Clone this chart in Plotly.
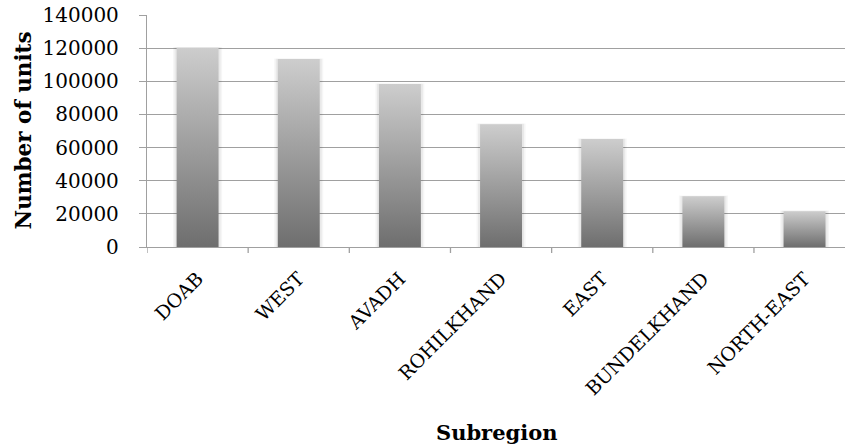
import plotly.graph_objects as go

categories = ["DOAB", "WEST", "AVADH", "ROHILKHAND", "EAST", "BUNDELKHAND", "NORTH-EAST"]
units = [120300, 113400, 98300, 74100, 65100, 30600, 21600]
y_ticks = [0, 20000, 40000, 60000, 80000, 100000, 120000, 140000]

W, H = 845, 445
ML, MR, MT, MB = 147, 0, 15, 198
PH = H - MT - MB
PW = W - ML - MR
GRID = "#a0a0a0"
half = 0.2075

fig = go.Figure()
for i, (cat, v) in enumerate(zip(categories, units)):
    # soft shadow
    for pad, a in [(0.035, 0.035), (0.02, 0.05)]:
        fig.add_trace(go.Scatter(
            x=[i - half - pad, i + half + pad, i + half + pad, i - half - pad, i - half - pad],
            y=[0, 0, v + pad * 12000, v + pad * 12000, 0],
            mode="lines", line=dict(width=0, color="rgba(0,0,0,0)"),
            fill="toself", fillcolor=f"rgba(0,0,0,{a})",
            hoverinfo="skip", showlegend=False,
        ))
    fig.add_trace(go.Scatter(
        x=[i - half, i + half, i + half, i - half, i - half],
        y=[0, 0, v, v, 0],
        mode="lines",
        line=dict(width=0, color="rgba(0,0,0,0)"),
        fill="toself",
        fillgradient=dict(type="vertical",
                          colorscale=[[0, "#6e6e6e"], [1, "#cdcdcd"]]),
        hoverinfo="skip",
        showlegend=False,
        name=cat,
    ))

fig.update_layout(
    width=W, height=H,
    margin=dict(l=ML, r=MR, t=MT, b=MB, pad=0, autoexpand=False),
    paper_bgcolor="white", plot_bgcolor="white",
    showlegend=False,
    font=dict(family="DejaVu Serif", color="black"),
    xaxis=dict(
        type="linear",
        automargin=False,
        range=[-0.5, 6.4],
        tickmode="array",
        tickvals=list(range(len(categories))),
        ticktext=categories,
        tickangle=-45,
        tickfont=dict(family="DejaVu Serif", size=19, color="black"),
        showgrid=False, zeroline=False,
        showline=True, linecolor=GRID, linewidth=1.3,
        ticks="",
        ticklabelstandoff=12,
    ),
    yaxis=dict(
        automargin=False,
        range=[0, 140000],
        tickmode="array",
        tickvals=y_ticks,
        ticktext=[str(t) for t in y_ticks],
        tickfont=dict(family="DejaVu Serif", size=20, color="black"),
        showgrid=True, gridcolor=GRID, gridwidth=1.3,
        zeroline=False,
        showline=True, linecolor=GRID, linewidth=1.3,
        ticks="outside", ticklen=7, tickcolor=GRID, tickwidth=1.3,
        ticklabelstandoff=16,
    ),
    annotations=[
        dict(text="<b>Number of units</b>", xref="paper", yref="paper",
             x=(22.5 - ML) / PW, y=0.5, xanchor="center", yanchor="middle",
             textangle=-90, showarrow=False,
             font=dict(family="DejaVu Serif", size=21.5, color="black")),
        dict(text="<b>Subregion</b>", xref="paper", yref="paper",
             x=0.5, y=-(432 - (H - MB)) / PH, xanchor="center", yanchor="middle",
             showarrow=False,
             font=dict(family="DejaVu Serif", size=21, color="black")),
    ],
)

# category boundary tick marks on the x axis (derived from category count)
for b in range(len(categories) + 1):
    fig.add_shape(type="line", xref="x", yref="paper",
                  x0=b - 0.5, x1=b - 0.5, y0=0, y1=-6 / PH,
                  line=dict(color=GRID, width=1.3))

fig.write_html("out.html", config={"displayModeBar": False},
               post_script="document.body.style.margin='0px';")
